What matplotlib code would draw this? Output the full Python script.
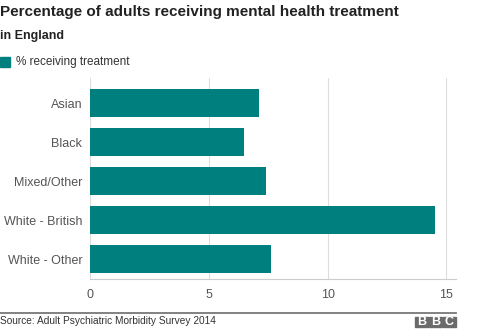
import matplotlib
matplotlib.use("Agg")
import matplotlib.pyplot as plt
from matplotlib.patches import Rectangle

plt.rcParams['font.family'] = ['Liberation Sans', 'DejaVu Sans']

# data
groups = ["Asian", "Black", "Mixed/Other", "White - British", "White - Other"]
pct_treated = [7.1, 6.5, 7.4, 14.5, 7.6]
xticks = [0, 5, 10, 15]

teal = "#007f7f"
grid_col = "#dddddd"
text_col = "#555555"

W, H = 480, 331
fig = plt.figure(figsize=(W / 100, H / 100), dpi=100)

def fx(px):
    return px / W
def fy(py):
    return 1 - py / H

ax = fig.add_axes([fx(90), fy(279.3), fx(456) - fx(90), fy(78) - fy(279.3)])
ypos = list(range(len(groups)))
ax.barh(ypos, pct_treated, height=0.72, color=teal, zorder=3)
ax.set_ylim(4.52, -0.65)
ax.set_xlim(0, 15.4)
ax.set_xticks(xticks)
ax.set_xticklabels([str(t) for t in xticks])
ax.set_yticks(ypos)
ax.set_yticklabels(groups)
ax.grid(axis='x', color=grid_col, linewidth=0.8, zorder=0)
for s in ['top', 'right', 'left']:
    ax.spines[s].set_visible(False)
ax.spines['bottom'].set_color('#cccccc')
ax.spines['bottom'].set_linewidth(0.8)
ax.tick_params(axis='both', length=0, colors=text_col, labelsize=9)
ax.tick_params(axis='x', pad=7)
ax.tick_params(axis='y', pad=5.5)

# titles
fig.text(fx(0), fy(12), "Percentage of adults receiving mental health treatment",
         fontsize=11, fontweight='bold', color='#222222', va='center', ha='left')
fig.text(fx(0), fy(36), "in England", fontsize=9, fontweight='bold',
         color='#222222', va='center', ha='left')

# legend
fig.patches.append(Rectangle((fx(0), fy(67)), fx(10), fy(57) - fy(67),
                             transform=fig.transFigure, color=teal))
fig.text(fx(16), fy(62.5), "% receiving treatment", fontsize=8.5,
         color='#333333', va='center', ha='left')

# footer
fig.add_artist(plt.Line2D([0, fx(456)], [fy(312.5), fy(312.5)],
                          transform=fig.transFigure, color='#777777', linewidth=1.3))
fig.text(fx(0), fy(321), "Source: Adult Psychiatric Morbidity Survey 2014",
         fontsize=7.3, color='#333333', va='center', ha='left')

for i, letter in enumerate("BBC"):
    x0 = 415 + i * 13.9
    fig.patches.append(Rectangle((fx(x0), fy(326.8)), fx(12.7), fy(316.6) - fy(326.8),
                                 transform=fig.transFigure, color='#6b6b6b'))
    fig.text(fx(x0 + 6.35), fy(321.9), letter, fontsize=9, fontweight='bold',
             color='white', va='center', ha='center')

fig.savefig("out.png", dpi=100)
